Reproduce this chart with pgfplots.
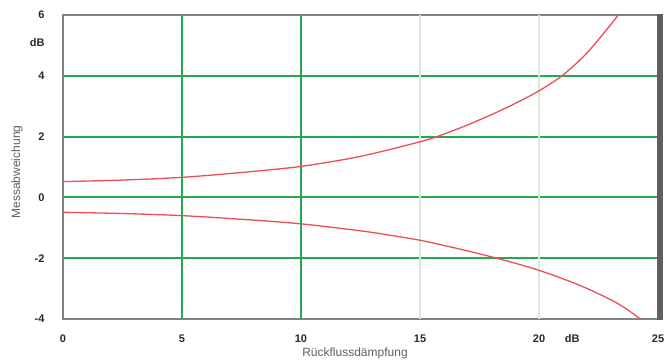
\documentclass[border=0pt]{standalone}
\usepackage{fontspec}
\setmainfont{Liberation Sans}
\usepackage{pgfplots}
\pgfplotsset{compat=1.18}

\definecolor{gridgreen}{RGB}{38,168,78}
\definecolor{gridlight}{RGB}{214,236,212}
\definecolor{curvered}{RGB}{234,78,88}
\definecolor{framegrey}{RGB}{130,130,130}
\definecolor{bargrey}{RGB}{96,96,96}
\definecolor{ticktext}{RGB}{40,40,40}
\definecolor{labeltext}{RGB}{95,95,95}

\begin{document}
\begin{tikzpicture}
\useasboundingbox (-63pt,-44pt) rectangle (606pt,319pt);
\begin{axis}[
  at={(0,0)}, anchor=south west,
  scale only axis, width=595pt, height=304pt,
  xmin=0, xmax=25, ymin=-4, ymax=6,
  xtick={0,5,10,25}, xticklabels={0,5,10,25},
  extra x ticks={15,20}, extra x tick labels={15,20},
  extra x tick style={grid style={draw=gridlight, line width=1.1pt}},
  ytick={-4,-2,0,2,4,6}, yticklabels={-4,-2,0,2,4,6},
  major tick length=0pt,
  grid=major,
  grid style={draw=gridgreen, line width=1.9pt},
  axis line style={draw=framegrey, line width=1.6pt},
  tick label style={font=\bfseries\fontsize{11}{12}\selectfont, text=ticktext},
  xticklabel style={anchor=north, yshift=-12pt},
  yticklabel style={anchor=east, xshift=-15pt},
  clip=true,
]
% upper error limit
\addplot[curvered, line width=1.3pt, smooth] coordinates {
  (0,0.52) (2.5,0.57) (5,0.66) (7.5,0.82) (10,1.02) (12.5,1.35)
  (15,1.83) (16,2.08) (17,2.385) (18,2.72) (19,3.09) (20,3.505)
  (21,4.02) (22,4.74) (23,5.67) (23.33,6.0)
};
% lower error limit
\addplot[curvered, line width=1.3pt, smooth] coordinates {
  (0,-0.49) (2.5,-0.53) (5,-0.6) (7.5,-0.72) (10,-0.87) (12.5,-1.1)
  (13.75,-1.245) (15,-1.41) (16,-1.58) (17,-1.76) (18,-1.955) (19,-2.165) (20,-2.4)
  (21,-2.675) (22,-2.99) (23,-3.36) (23.5,-3.58) (24,-3.85) (24.26,-4.0)
};
\end{axis}
% right frame bar
\fill[bargrey] (594pt,-0.8pt) rectangle (600pt,304.8pt);
% unit labels
\node[font=\bfseries\fontsize{11}{12}\selectfont, text=ticktext, anchor=north]
  at ({21.4*595pt/25},-12pt) {dB};
\node[font=\bfseries\fontsize{11}{12}\selectfont, text=ticktext, anchor=east]
  at (-15pt,{9.09*304pt/10}) {dB};
% axis titles
\node[font=\fontsize{12}{13}\selectfont, text=labeltext]
  at (292pt,-34pt) {Rückflussdämpfung};
\node[font=\fontsize{12}{13}\selectfont, text=labeltext, rotate=90]
  at (-46pt,147pt) {Messabweichung};
\end{tikzpicture}
\end{document}
